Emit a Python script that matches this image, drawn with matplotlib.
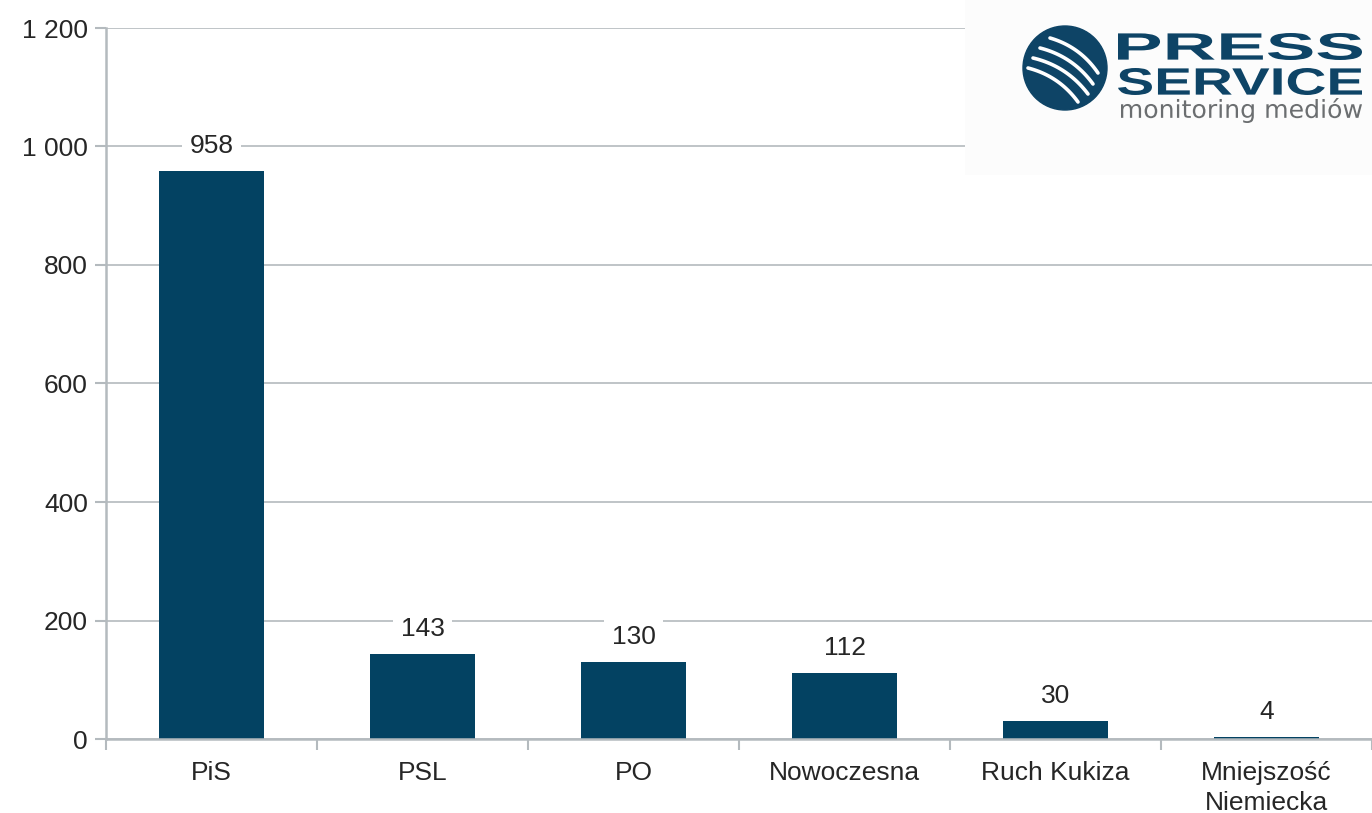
import numpy as np
import matplotlib.pyplot as plt
from matplotlib.patches import Circle, Rectangle, PathPatch
from matplotlib.textpath import TextPath
from matplotlib.font_manager import FontProperties
from matplotlib.transforms import Affine2D

plt.rcParams['font.family'] = ['Liberation Sans', 'DejaVu Sans']

# data
parties = ['PiS', 'PSL', 'PO', 'Nowoczesna', 'Ruch Kukiza', 'Mniejszość\nNiemiecka']
counts = [958, 143, 130, 112, 30, 4]
yticks = [0, 200, 400, 600, 800, 1000, 1200]

bar_col = '#034262'
grid_col = '#b4babe'
txt_col = '#262626'

fig = plt.figure(figsize=(13.72, 8.13), dpi=100)
ax = fig.add_axes([106/1372, 1 - 739/813, 1 - 106/1372, (739 - 28)/813])

x = np.arange(len(parties))
ax.bar(x, counts, width=0.5, color=bar_col, zorder=3)
ax.set_xlim(-0.5, len(parties) - 0.5)
ax.set_ylim(0, 1200)

ax.set_yticks(yticks)
ax.set_yticklabels([f'{v:,}'.replace(',', ' ') for v in yticks], fontsize=19, color=txt_col)
ax.set_xticks(x)
ax.set_xticklabels(parties, fontsize=19, color=txt_col, linespacing=1.3)
ax.tick_params(axis='x', length=0, pad=16)
ax.set_xticks(np.arange(len(parties) + 1) - 0.5, minor=True)
ax.tick_params(axis='x', which='minor', length=8, color=grid_col, width=1.5)
ax.tick_params(axis='y', length=8, color=grid_col, width=1.5, pad=5)

ax.grid(axis='y', color=grid_col, linewidth=1.2, zorder=0)
for s in ['top', 'right']:
    ax.spines[s].set_visible(False)
for s in ['left', 'bottom']:
    ax.spines[s].set_color(grid_col)
    ax.spines[s].set_linewidth(1.8)
ax.spines['bottom'].set_zorder(4)

for xi, v in zip(x, counts):
    ax.annotate(str(v), (xi, v), xytext=(0, 18), textcoords='offset points',
                ha='center', va='center', fontsize=19, color=txt_col, zorder=5,
                bbox=dict(boxstyle='square,pad=0.3', fc='white', ec='none'))

# logo area
W, H = 1372, 813
fig.patches.append(Rectangle((965/W, 1 - 175/H), 1 - 965/W, 175/H, transform=fig.transFigure,
                             fc='#fcfcfc', ec='none', zorder=10))
lax = fig.add_axes([965/W, 1 - 175/H, 1 - 965/W, 175/H], zorder=11)
lax.set_xlim(965, 1372)
lax.set_ylim(175, 0)
lax.set_aspect('equal')
lax.axis('off')
logo_col = '#0e4466'
lax.add_patch(Circle((1065, 68), 42, color=logo_col))

# white streaks in the circle
streaks = [((1050, 38), (1098, 73)), ((1040, 48), (1093, 84)),
           ((1033, 58), (1088, 94)), ((1028, 68), (1078, 102))]
t = np.linspace(0, 1, 30)
for (x0, y0), (x1, y1) in streaks:
    mx, my = (x0 + x1) / 2, (y0 + y1) / 2
    dx, dy = x1 - x0, y1 - y0
    cx, cy = mx + dy * 0.18, my - dx * 0.18
    px = (1 - t)**2 * x0 + 2 * (1 - t) * t * cx + t**2 * x1
    py = (1 - t)**2 * y0 + 2 * (1 - t) * t * cy + t**2 * y1
    lax.plot(px, py, color='white', lw=2.6, solid_capstyle='round')


def fit_text(s, x0, x1, ytop, ybot, prop, color):
    tp = TextPath((0, 0), s, size=40, prop=prop)
    ext = tp.get_extents()
    sx = (x1 - x0) / ext.width
    sy = (ybot - ytop) / ext.height
    tr = Affine2D().translate(-ext.x0, -ext.y1).scale(sx, -sy).translate(x0, ytop)
    lax.add_patch(PathPatch(tr.transform_path(tp), fc=color, ec='none'))


bold = FontProperties(family='Liberation Sans', weight='bold')
light = FontProperties(family='DejaVu Sans')
fit_text('PRESS', 1118, 1362, 33, 60, bold, logo_col)
fit_text('SERVICE', 1118, 1362, 68, 95, bold, logo_col)
fit_text('monitoring mediów', 1121, 1362, 98, 123, light, '#6b6e70')

fig.savefig('out.png', dpi=100)
